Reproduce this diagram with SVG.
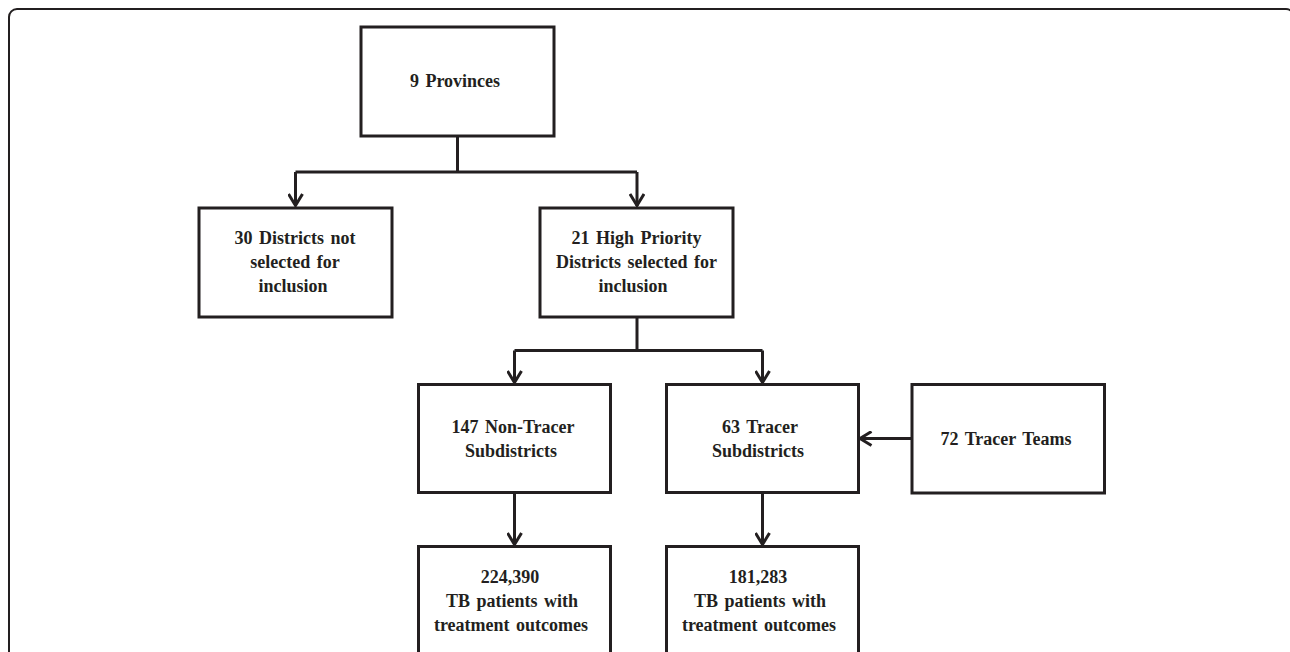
<svg xmlns="http://www.w3.org/2000/svg" width="1290" height="652" viewBox="0 0 1290 652">
<style>
.box{fill:#fff;stroke:#231f20;stroke-width:3}
.lbl{font-family:"Liberation Serif","Times New Roman",serif;font-weight:bold;font-size:18px;fill:#231f20;text-anchor:middle;word-spacing:2px}
.con{fill:none;stroke:#231f20;stroke-width:3}
</style>
<defs>
<marker id="ah" markerWidth="16" markerHeight="16" viewBox="0 0 16 16" refX="14.5" refY="8" orient="auto" markerUnits="userSpaceOnUse">
<path d="M2.5,1 L14,8 L2.5,15" fill="none" stroke="#231f20" stroke-width="3"/>
</marker>
</defs>
<rect width="1290" height="652" fill="#fff"/>
<rect x="9" y="9" width="1285" height="700" rx="8" ry="8" fill="none" stroke="#231f20" stroke-width="2"/>
<g id="connectors">
<polyline class="con" points="457.5,136 457.5,172"/>
<polyline class="con" points="295.5,172 637,172"/>
<polyline class="con" points="295.5,172 295.5,206" marker-end="url(#ah)"/>
<polyline class="con" points="637,172 637,206" marker-end="url(#ah)"/>
<polyline class="con" points="637,317 637,350.5"/>
<polyline class="con" points="514.5,350.5 762.5,350.5"/>
<polyline class="con" points="514.5,350.5 514.5,383" marker-end="url(#ah)"/>
<polyline class="con" points="762.5,350.5 762.5,383" marker-end="url(#ah)"/>
<polyline class="con" points="911.5,438.5 859.5,438.5" marker-end="url(#ah)"/>
<polyline class="con" points="514.5,493 514.5,545" marker-end="url(#ah)"/>
<polyline class="con" points="762.5,493 762.5,545" marker-end="url(#ah)"/>
</g>
<g id="provinces">
<rect class="box" x="361" y="27" width="193" height="109"/>
<text class="lbl" x="455" y="87">9 Provinces</text>
</g>
<g id="not-selected">
<rect class="box" x="199" y="208" width="193" height="109"/>
<text class="lbl" x="295" y="244">30 Districts not</text>
<text class="lbl" x="295" y="268">selected for</text>
<text class="lbl" x="293" y="292">inclusion</text>
</g>
<g id="high-priority">
<rect class="box" x="540" y="208" width="193" height="109"/>
<text class="lbl" x="636.5" y="244">21 High Priority</text>
<text class="lbl" x="636.5" y="268">Districts selected for</text>
<text class="lbl" x="633" y="292">inclusion</text>
</g>
<g id="non-tracer">
<rect class="box" x="418.5" y="384.5" width="192" height="108"/>
<text class="lbl" x="513" y="433">147 Non-Tracer</text>
<text class="lbl" x="511" y="457">Subdistricts</text>
</g>
<g id="tracer">
<rect class="box" x="666.5" y="384.5" width="192" height="108"/>
<text class="lbl" x="760" y="433">63 Tracer</text>
<text class="lbl" x="758" y="457">Subdistricts</text>
</g>
<g id="tracer-teams">
<rect class="box" x="912" y="384.5" width="192.5" height="108.5"/>
<text class="lbl" x="1006" y="445">72 Tracer Teams</text>
</g>
<g id="non-tracer-patients">
<rect class="box" x="418.5" y="546.5" width="192" height="140"/>
<text class="lbl" x="510" y="583">224,390</text>
<text class="lbl" x="512" y="607">TB patients with</text>
<text class="lbl" x="511" y="631">treatment outcomes</text>
</g>
<g id="tracer-patients">
<rect class="box" x="666.5" y="546.5" width="192" height="140"/>
<text class="lbl" x="758" y="583">181,283</text>
<text class="lbl" x="760" y="607">TB patients with</text>
<text class="lbl" x="759" y="631">treatment outcomes</text>
</g>
</svg>
